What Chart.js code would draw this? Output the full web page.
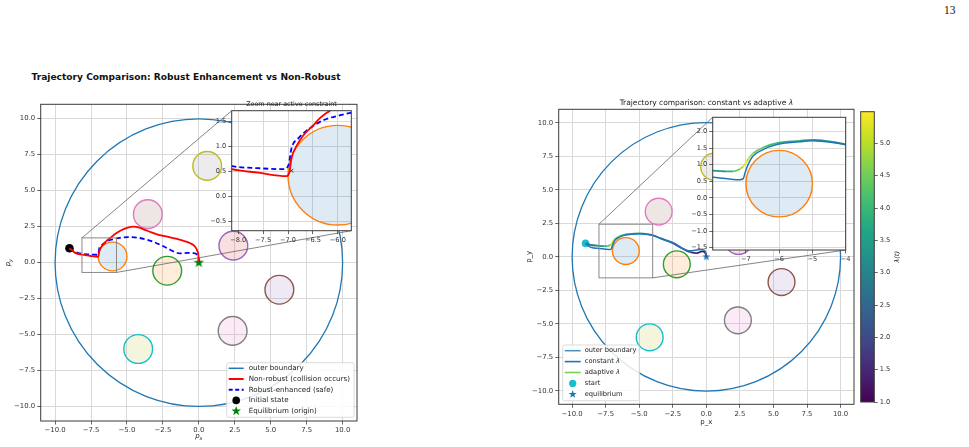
<!DOCTYPE html>
<html>
<head>
<meta charset="utf-8">
<script src="https://cdn.jsdelivr.net/npm/chart.js@4.4.1/dist/chart.umd.min.js"></script>
<style>
html, body { margin: 0; padding: 0; background: #fff; }
#page { position: relative; width: 969px; height: 447px; overflow: hidden; font-family: "DejaVu Sans", sans-serif; }
canvas { position: absolute; left: 0; top: 0; }
.txt { position: absolute; white-space: nowrap; color: #111; }
</style>
</head>
<body>
<div id="page">
  <div class="txt" style="left:944px;top:4px;font-family:'Liberation Serif',serif;font-size:11.5px;">13</div>
  <div class="txt" style="left:186px;top:77px;transform:translate(-50%,-50%);font-weight:bold;font-size:9.1px;">Trajectory Comparison: Robust Enhancement vs Non-Robust</div>
  <canvas id="cL" width="969" height="447" style="z-index:1"></canvas>
  <canvas id="cLI" width="969" height="447" style="z-index:2"></canvas>
  <canvas id="cR" width="969" height="447" style="z-index:1"></canvas>
  <canvas id="cRI" width="969" height="447" style="z-index:2"></canvas>
  <canvas id="cCB" width="969" height="447" style="z-index:1"></canvas>
</div>
<script>
// ---- data ----
const mainTicks = [-10, -7.5, -5, -2.5, 0, 2.5, 5, 7.5, 10];
const mainLim = [-11, 11];

const zoomLX = [-8.13, -5.73], zoomLY = [-0.68, 1.72];
const zoomLTicksX = [-8, -7.5, -7, -6.5, -6];
const zoomLTicksY = [-0.5, 0, 0.5, 1, 1.5];

const zoomRX = [-8, -4], zoomRY = [-1.57, 2.43];
const zoomRTicksX = [-7, -6, -5, -4];
const zoomRTicksY = [-1.5, -1, -0.5, 0, 0.5, 1, 1.5, 2];

const cbTicks = [1, 1.5, 2, 2.5, 3, 3.5, 4, 4.5, 5];
const lamMin = 1.0, lamMax = 5.49;

const outerR = 10;
const obsX = [-6.0, -2.2, 2.4, 5.6, -3.55, 2.35, 0.58, -4.22];
const obsY = [0.43, -0.56, 1.18, -1.88, 3.37, -4.74, 6.72, -6.0];
const obsR = [1, 1, 1, 1, 1, 1, 1, 1];

// non-robust (red) and robust (blue dashed)
const nrX = [-9.0, -8.6, -8.13, -7.6, -7.03, -6.97, -6.93, -6.82, -6.69, -6.52, -6.36, -6.15, -5.8, -5.4, -5.0, -4.55, -4.2, -3.8, -3.3, -2.8, -2.2, -1.6, -1.0, -0.6, -0.3, -0.12, -0.03, 0.0];
const nrY = [1.0, 0.68, 0.55, 0.48, 0.41, 0.5, 0.77, 1.03, 1.23, 1.4, 1.57, 1.73, 2.0, 2.25, 2.42, 2.5, 2.45, 2.3, 2.1, 1.93, 1.8, 1.67, 1.5, 1.35, 1.15, 0.85, 0.5, 0.05];
const rbX = [-9.0, -8.6, -8.13, -7.6, -7.09, -6.99, -6.93, -6.79, -6.56, -6.29, -5.95, -5.5, -4.9, -4.3, -3.7, -3.1, -2.6, -2.1, -1.7, -1.3, -0.8, -0.4, -0.15, -0.02, 0.0];
const rbY = [1.0, 0.74, 0.61, 0.57, 0.55, 0.63, 0.97, 1.17, 1.37, 1.53, 1.63, 1.72, 1.77, 1.74, 1.62, 1.42, 1.2, 0.95, 0.75, 0.64, 0.68, 0.66, 0.58, 0.3, 0.05];

// constant vs adaptive lambda
const cnX = [-9.0, -8.6, -7.98, -7.5, -7.18, -7.08, -7.03, -6.93, -6.8, -6.5, -6.1, -5.4, -5.0, -4.4, -4.0, -3.4, -2.5, -1.8, -1.3, -0.9, -0.4, -0.1, 0.0];
const cnY = [1.0, 0.7, 0.62, 0.57, 0.55, 0.58, 0.75, 1.02, 1.25, 1.45, 1.6, 1.69, 1.72, 1.67, 1.6, 1.36, 1.0, 0.62, 0.45, 0.48, 0.55, 0.45, 0.03];
const adX = [-9.0, -8.6, -8.0, -7.6, -7.38, -7.18, -7.08, -6.98, -6.88, -6.78, -6.48, -6.08, -5.38, -4.98, -4.38, -4.03, -3.43, -2.44, -1.69, -1.19, -0.7, -0.32, -0.07, 0.0];
const adY = [1.0, 0.88, 0.82, 0.8, 0.8, 0.87, 0.95, 1.1, 1.24, 1.35, 1.52, 1.65, 1.72, 1.75, 1.69, 1.62, 1.39, 1.02, 0.57, 0.35, 0.27, 0.4, 0.27, 0.02];
const adLam = [2.6, 2.8, 3.1, 3.6, 4.1, 4.7, 5.2, 5.4, 5.0, 4.6, 4.3, 4.0, 3.6, 3.4, 3.1, 2.9, 2.6, 2.3, 2.0, 1.7, 1.4, 1.2, 1.1, 1.0];

const startPt = [-9, 1];
const equilPt = [0, 0];
const contactPt = [-6.93, 0.52];

// ---- styles ----
const obsEdge = ['#ff7f0e', '#2ca02c', '#9467bd', '#8c564b', '#e377c2', '#7f7f7f', '#bcbd22', '#17becf'];
const obsFill = ['#1f77b4', '#ff7f0e', '#d62728', '#9467bd', '#8c564b', '#e377c2', '#7f7f7f', '#bcbd22'];
const viridisStops = ['#440154', '#482475', '#414487', '#355f8d', '#2a788e', '#21918c', '#22a884', '#44bf70', '#7ad151', '#bddf26', '#fde725'];

const W = 969, H = 447;
const AL = { l: 40.7, t: 104.3, r: 357, b: 421 };
const ALI = { l: 231.7, t: 110.7, r: 351.3, b: 230.7 };
const AR = { l: 558.7, t: 109.3, r: 854, b: 404.3 };
const ARI = { l: 712.7, t: 117.3, r: 845.7, b: 250 };
const ACB = { l: 860.7, t: 111.7, r: 874.3, b: 402 };
const TICK_FONT = 6.9;

Chart.defaults.font.family = '"DejaVu Sans", sans-serif';
Chart.defaults.animation = false;

const P = (xs, ys) => xs.map((x, i) => ({ x: x, y: ys[i] }));
const fmt = d => v => v.toFixed(d).replace('-', '\u2212');

function hexRgb(h) { return [1, 3, 5].map(i => parseInt(h.substr(i, 2), 16)); }
function viridis(t) {
  t = Math.max(0, Math.min(1, t));
  const f = t * 10, i = Math.min(9, Math.floor(f)), u = f - i;
  const a = hexRgb(viridisStops[i]), b = hexRgb(viridisStops[i + 1]);
  return 'rgb(' + a.map((c, k) => Math.round(c + (b[k] - c) * u)).join(',') + ')';
}
const lamNorm = v => (v - lamMin) / (lamMax - lamMin);

function drawStar(ctx, cx, cy, R, color) {
  ctx.beginPath();
  for (let k = 0; k < 10; k++) {
    const r = k % 2 === 0 ? R : R * 0.4;
    const a = -Math.PI / 2 + k * Math.PI / 5;
    ctx.lineTo(cx + r * Math.cos(a), cy + r * Math.sin(a));
  }
  ctx.closePath();
  ctx.fillStyle = color; ctx.fill();
}
function starImg(R, color) {
  const c = document.createElement('canvas');
  c.width = c.height = Math.ceil(2 * R + 2);
  drawStar(c.getContext('2d'), c.width / 2, c.height / 2, R, color);
  return c;
}

function richText(ctx, parts, x, y, size, rot, align) {
  ctx.save();
  ctx.translate(x, y);
  if (rot) ctx.rotate(rot);
  const fonts = parts.map(p => (p.it ? 'italic ' : '') + (p.sub ? size * 0.7 : size) + 'px "DejaVu Sans"');
  let w = 0;
  const ws = parts.map((p, i) => { ctx.font = fonts[i]; const m = ctx.measureText(p.t).width; w += m; return m; });
  let cx = align === 'left' ? 0 : -w / 2;
  ctx.textBaseline = 'middle'; ctx.textAlign = 'left'; ctx.fillStyle = '#222';
  parts.forEach((p, i) => { ctx.font = fonts[i]; ctx.fillText(p.t, cx, p.sub ? size * 0.3 : 0); cx += ws[i]; });
  ctx.restore();
}

function axis(pos, lim, ticks, size, dec, gridOn, fs) {
  return {
    type: 'linear', position: pos, min: lim[0], max: lim[1],
    afterBuildTicks: s => { s.ticks = ticks.map(v => ({ value: v })); },
    afterFit: s => { if (pos === 'left' || pos === 'right') s.width = size; else s.height = size; },
    grid: { display: true, drawOnChartArea: gridOn, color: '#d9d9d9', lineWidth: 1, tickLength: 3.5, tickColor: '#444', tickWidth: 0.8 },
    border: { display: false },
    ticks: { color: '#333', font: { size: fs || TICK_FONT }, padding: 2, autoSkip: false, maxRotation: 0, callback: fmt(dec) }
  };
}

function pad(a, yw, xh, yRight) {
  return {
    left: yRight ? a.l : a.l - yw,
    top: a.t,
    right: yRight ? W - a.r - yw : W - a.r,
    bottom: H - a.b - xh
  };
}

// circles: outer boundary + obstacles
function circlesPlugin(withOuter) {
  return {
    id: 'circles',
    beforeDatasetsDraw(chart) {
      const { ctx, chartArea: a, scales: { x, y } } = chart;
      const ppu = Math.abs(x.getPixelForValue(1) - x.getPixelForValue(0));
      ctx.save();
      ctx.beginPath(); ctx.rect(a.left, a.top, a.right - a.left, a.bottom - a.top); ctx.clip();
      obsX.forEach((ox, i) => {
        ctx.beginPath();
        ctx.arc(x.getPixelForValue(ox), y.getPixelForValue(obsY[i]), obsR[i] * ppu, 0, 2 * Math.PI);
        ctx.globalAlpha = 0.15; ctx.fillStyle = obsFill[i]; ctx.fill();
        ctx.globalAlpha = 1; ctx.strokeStyle = obsEdge[i]; ctx.lineWidth = 1.4; ctx.stroke();
      });
      if (withOuter) {
        ctx.beginPath();
        ctx.arc(x.getPixelForValue(0), y.getPixelForValue(0), outerR * ppu, 0, 2 * Math.PI);
        ctx.strokeStyle = '#1f77b4'; ctx.lineWidth = 1.3; ctx.stroke();
      }
      ctx.restore();
    }
  };
}

const framePlugin = {
  id: 'frame',
  afterDatasetsDraw(chart) {
    const { ctx, chartArea: a } = chart;
    ctx.save(); ctx.strokeStyle = '#3a3a3a'; ctx.lineWidth = 1;
    ctx.strokeRect(a.left, a.top, a.right - a.left, a.bottom - a.top);
    ctx.restore();
  }
};
const whiteBg = {
  id: 'whiteBg',
  beforeDraw(chart) {
    const { ctx, chartArea: a } = chart;
    ctx.save(); ctx.fillStyle = '#fff'; ctx.fillRect(a.left, a.top, a.right - a.left, a.bottom - a.top); ctx.restore();
  }
};

function zoomMarkPlugin(zx, zy, ins) {
  return {
    id: 'zoomMark',
    afterDatasetsDraw(chart) {
      const { ctx, scales: { x, y } } = chart;
      const x0 = x.getPixelForValue(zx[0]), x1 = x.getPixelForValue(zx[1]);
      const y0 = y.getPixelForValue(zy[0]), y1 = y.getPixelForValue(zy[1]);
      ctx.save();
      ctx.strokeStyle = '#888'; ctx.lineWidth = 1;
      ctx.strokeRect(x0, y1, x1 - x0, y0 - y1);
      ctx.strokeStyle = '#666'; ctx.lineWidth = 0.8;
      ctx.beginPath();
      ctx.moveTo(x0, y1); ctx.lineTo(ins.l, ins.t);
      ctx.moveTo(x1, y0); ctx.lineTo(ins.r, ins.b);
      ctx.stroke();
      ctx.restore();
    }
  };
}

function textPlugin(items) {
  return {
    id: 'texts',
    afterDraw(chart) {
      items.forEach(it => richText(chart.ctx, it.parts, it.x, it.y, it.size, it.rot || 0, 'center'));
    }
  };
}

function legendPlugin(cfg) {
  return {
    id: 'lgd',
    afterDraw(chart) {
      const ctx = chart.ctx, b = cfg.box;
      ctx.save();
      ctx.beginPath();
      ctx.roundRect(b.l, b.t, b.r - b.l, b.b - b.t, 2);
      ctx.fillStyle = 'rgba(255,255,255,0.85)'; ctx.fill();
      ctx.strokeStyle = '#d2d2d2'; ctx.lineWidth = 0.8; ctx.stroke();
      cfg.items.forEach((it, i) => {
        const y = b.t + cfg.first + i * cfg.step;
        const x0 = b.l + 2, x1 = x0 + cfg.sw, xm = (x0 + x1) / 2;
        ctx.save();
        if (it.kind === 'line' || it.kind === 'dash') {
          ctx.beginPath(); ctx.moveTo(x0, y); ctx.lineTo(x1, y);
          ctx.strokeStyle = it.color; ctx.lineWidth = it.w || 1.6;
          if (it.kind === 'dash') ctx.setLineDash([4, 2.5]);
          ctx.stroke();
        } else if (it.kind === 'dot') {
          ctx.beginPath(); ctx.arc(xm, y, it.r, 0, 2 * Math.PI); ctx.fillStyle = it.color; ctx.fill();
        } else if (it.kind === 'star') {
          drawStar(ctx, xm, y, it.r, it.color);
        }
        ctx.restore();
        richText(ctx, it.label, x1 + cfg.gap, y, cfg.font, 0, 'left');
      });
      ctx.restore();
    }
  };
}

const baseOpts = (area, xAx, yAx, yw, xh) => ({
  responsive: false, maintainAspectRatio: false, animation: false,
  layout: { padding: pad(area, yw, xh, false) },
  plugins: { legend: { display: false }, tooltip: { enabled: false } },
  scales: { x: xAx, y: yAx }
});

const lineDs = (xs, ys, color, w, extra) => Object.assign({
  data: P(xs, ys), showLine: true, borderColor: color, borderWidth: w,
  pointRadius: 0, cubicInterpolationMode: 'monotone'
}, extra || {});

// ---------- left: robust vs non-robust ----------
const starGreen = starImg(5.5, '#008000');
const starBlue = starImg(4.2, '#1f77b4');

new Chart(document.getElementById('cLI'), {
  type: 'scatter',
  data: { datasets: [
    lineDs(nrX, nrY, '#ff0000', 1.8, { clip: 0 }),
    lineDs(rbX, rbY, '#0000ff', 1.8, { borderDash: [5, 3], clip: 0 }),
    { data: [{ x: contactPt[0], y: contactPt[1] }], pointStyle: 'crossRot', pointRadius: 2.6, borderColor: '#333', borderWidth: 1, clip: 0 }
  ] },
  options: baseOpts(ALI, axis('bottom', zoomLX, zoomLTicksX, 14, 1, true, 6.6), axis('left', zoomLY, zoomLTicksY, 24, 1, true, 6.6), 24, 14),
  plugins: [whiteBg, circlesPlugin(false), framePlugin,
    textPlugin([{ parts: [{ t: 'Zoom near active constraint' }], x: (ALI.l + ALI.r) / 2, y: 104.5, size: 6.4 }])]
});

new Chart(document.getElementById('cL'), {
  type: 'scatter',
  data: { datasets: [
    lineDs(nrX, nrY, '#ff0000', 1.8),
    lineDs(rbX, rbY, '#0000ff', 1.8, { borderDash: [5, 3] }),
    { data: [{ x: startPt[0], y: startPt[1] }], pointRadius: 4.3, backgroundColor: '#000', borderWidth: 0 },
    { data: [{ x: equilPt[0], y: equilPt[1] }], pointStyle: starGreen, pointRadius: 6 }
  ] },
  options: baseOpts(AL, axis('bottom', mainLim, mainTicks, 20, 1, true), axis('left', mainLim, mainTicks, 30, 1, true), 30, 20),
  plugins: [circlesPlugin(true), zoomMarkPlugin(zoomLX, zoomLY, ALI), framePlugin,
    textPlugin([
      { parts: [{ t: 'p', it: true }, { t: 'x', it: true, sub: true }], x: (AL.l + AL.r) / 2, y: 436.5, size: 7 },
      { parts: [{ t: 'p', it: true }, { t: 'y', it: true, sub: true }], x: 8.5, y: (AL.t + AL.b) / 2, size: 7, rot: -Math.PI / 2 }
    ]),
    legendPlugin({
      box: { l: 226.7, t: 362.7, r: 354, b: 417.3 }, first: 5.6, step: 10.7, sw: 15, gap: 5, font: 7.1,
      items: [
        { kind: 'line', color: '#1f77b4', w: 1.5, label: [{ t: 'outer boundary' }] },
        { kind: 'line', color: '#ff0000', w: 2, label: [{ t: 'Non-robust (collision occurs)' }] },
        { kind: 'dash', color: '#0000ff', w: 2, label: [{ t: 'Robust-enhanced (safe)' }] },
        { kind: 'dot', color: '#000', r: 3.8, label: [{ t: 'Initial state' }] },
        { kind: 'star', color: '#008000', r: 5, label: [{ t: 'Equilibrium (origin)' }] }
      ]
    })]
});

// ---------- right: constant vs adaptive lambda ----------
const adaptiveDs = extra => lineDs(adX, adY, viridis(lamNorm(3)), 1.8, Object.assign({
  segment: { borderColor: c => viridis(lamNorm((adLam[c.p0DataIndex] + adLam[c.p1DataIndex]) / 2)) }
}, extra || {}));

new Chart(document.getElementById('cRI'), {
  type: 'scatter',
  data: { datasets: [
    lineDs(cnX, cnY, '#1f77b4', 1.5, { clip: 0 }),
    adaptiveDs({ clip: 0 })
  ] },
  options: baseOpts(ARI, axis('bottom', zoomRX, zoomRTicksX, 14, 0, true, 6.6), axis('left', zoomRY, zoomRTicksY, 24, 1, true, 6.6), 24, 14),
  plugins: [whiteBg, circlesPlugin(false), framePlugin]
});

new Chart(document.getElementById('cR'), {
  type: 'scatter',
  data: { datasets: [
    lineDs(cnX, cnY, '#1f77b4', 1.5),
    adaptiveDs(),
    { data: [{ x: startPt[0], y: startPt[1] }], pointRadius: 3.8, backgroundColor: '#17becf', borderWidth: 0 },
    { data: [{ x: equilPt[0], y: equilPt[1] }], pointStyle: starBlue, pointRadius: 5 }
  ] },
  options: baseOpts(AR, axis('bottom', mainLim, mainTicks, 20, 1, true), axis('left', mainLim, mainTicks, 30, 1, true), 30, 20),
  plugins: [circlesPlugin(true), zoomMarkPlugin(zoomRX, zoomRY, ARI), framePlugin,
    textPlugin([
      { parts: [{ t: 'Trajectory comparison: constant vs adaptive ' }, { t: '\u03bb', it: true }], x: (AR.l + AR.r) / 2, y: 102.7, size: 7.5 },
      { parts: [{ t: 'p_x' }], x: (AR.l + AR.r) / 2, y: 422, size: 7 },
      { parts: [{ t: 'p_y' }], x: 529, y: (AR.t + AR.b) / 2, size: 7, rot: -Math.PI / 2 }
    ]),
    legendPlugin({
      box: { l: 562.7, t: 345, r: 639.3, b: 400.7 }, first: 5.7, step: 10.9, sw: 16, gap: 4, font: 6.7,
      items: [
        { kind: 'line', color: '#4a8fc4', w: 1.5, label: [{ t: 'outer boundary' }] },
        { kind: 'line', color: '#1f77b4', w: 1.6, label: [{ t: 'constant ' }, { t: '\u03bb', it: true }] },
        { kind: 'line', color: '#7ad151', w: 1.6, label: [{ t: 'adaptive ' }, { t: '\u03bb', it: true }] },
        { kind: 'dot', color: '#17becf', r: 3.6, label: [{ t: 'start' }] },
        { kind: 'star', color: '#1f77b4', r: 4.3, label: [{ t: 'equilibrium' }] }
      ]
    })]
});

// ---------- colorbar ----------
const cbY = axis('right', [lamMin, lamMax], cbTicks, 30, 1, false, 6.6);
new Chart(document.getElementById('cCB'), {
  type: 'bar',
  data: { labels: [''], datasets: [{
    data: [[lamMin, lamMax]], barPercentage: 1, categoryPercentage: 1, borderWidth: 0,
    backgroundColor: c => {
      const ch = c.chart;
      if (!ch.chartArea) return '#21918c';
      const ys = ch.scales.y;
      const g = ch.ctx.createLinearGradient(0, ys.getPixelForValue(lamMin), 0, ys.getPixelForValue(lamMax));
      viridisStops.forEach((col, i) => g.addColorStop(i / (viridisStops.length - 1), col));
      return g;
    }
  }] },
  options: {
    responsive: false, maintainAspectRatio: false, animation: false,
    layout: { padding: pad(ACB, 30, 0, true) },
    plugins: { legend: { display: false }, tooltip: { enabled: false } },
    scales: { x: { display: false }, y: cbY }
  },
  plugins: [framePlugin,
    textPlugin([{ parts: [{ t: '\u03bb(t)', it: true }], x: 897, y: (ACB.t + ACB.b) / 2, size: 6.6, rot: -Math.PI / 2 }])]
});
</script>
</body>
</html>
